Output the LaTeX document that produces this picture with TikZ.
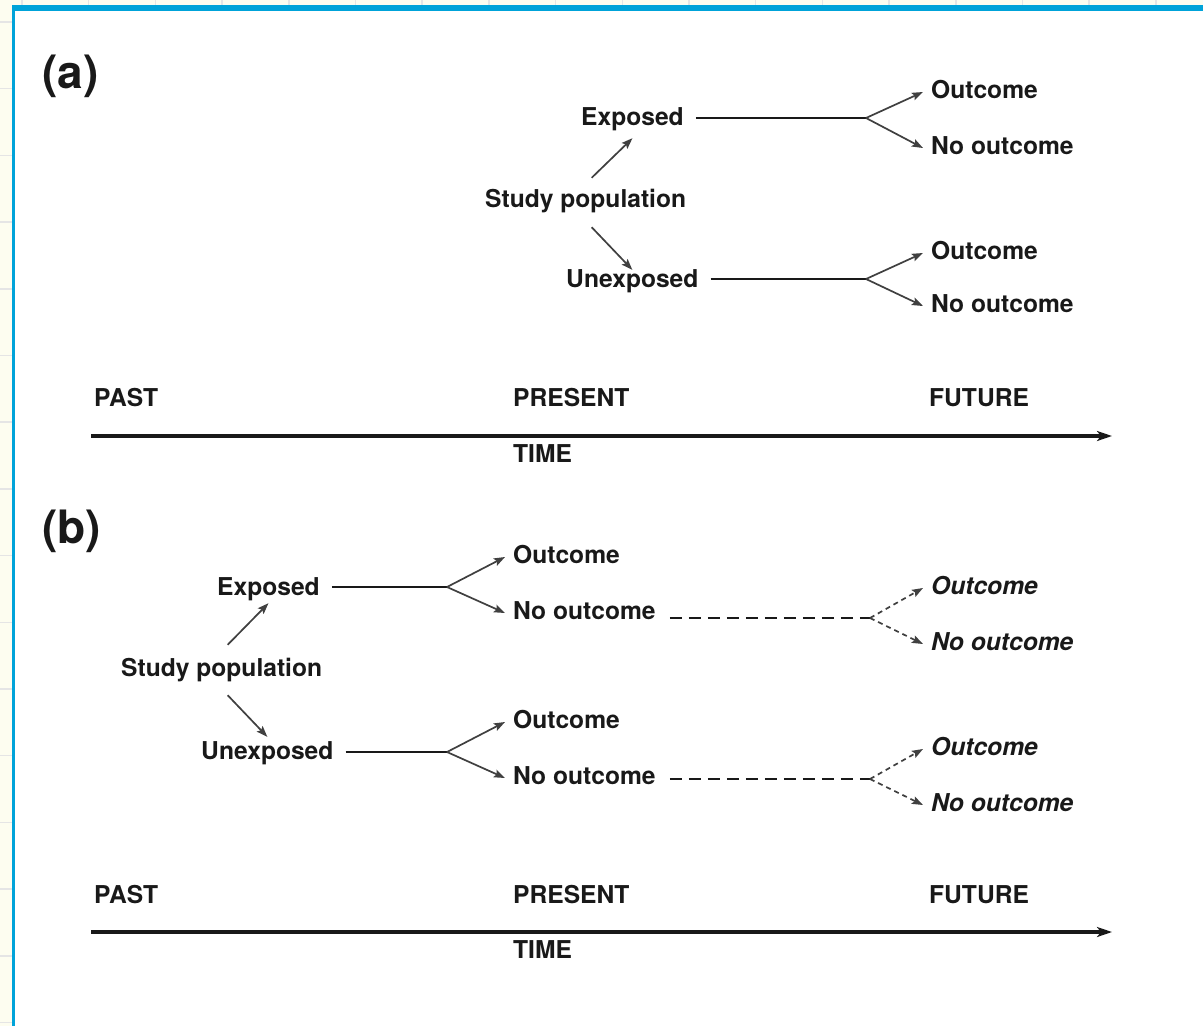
\documentclass[tikz,border=0pt]{standalone}
\usepackage{fontspec}
\setmainfont{TeX Gyre Heros}
\usetikzlibrary{arrows.meta, calc, backgrounds}
\definecolor{frameblue}{RGB}{0,163,217}
\definecolor{papercream}{RGB}{253,253,240}
\tikzset{
  lbl/.style={font=\fontsize{24.6}{28}\selectfont\bfseries, text=black!90, anchor=base west,
    inner xsep=8pt, inner ysep=4pt, text height=17pt, text depth=5pt},
  ilbl/.style={lbl, font=\fontsize{24.6}{28}\selectfont\bfseries\itshape},
  panel/.style={font=\fontsize{46}{50}\selectfont\bfseries, text=black!90, anchor=base west, inner sep=0pt},
  bar/.style={line width=2.8pt, black!90, shorten <=4pt},
  dbar/.style={bar, dash pattern=on 12pt off 7pt, shorten <=6pt},
  arr/.style={line width=1.7pt, black!75, -{Stealth[length=11pt,width=8pt,inset=2pt]}},
  darr/.style={arr, dash pattern=on 5pt off 4pt},
  timeline/.style={line width=3.5pt, black!90, -{Stealth[length=15pt,width=10pt,inset=4pt]}}
}
\begin{document}
\begin{tikzpicture}[x=1pt, y=-1pt]
        \useasboundingbox (0,0) rectangle (1203,1026);
        % page and frame
        \fill[papercream] (0,0) rectangle (1203,1026);
        \foreach \k in {0,...,17} \draw[gray!20, line width=1.5pt] (22+66.7*\k,0) -- ++(0,5);
        \foreach \k in {0,...,15} \draw[gray!20, line width=1.5pt] (0,22+66.7*\k) -- ++(12,0);
        \fill[white] (12,5) rectangle (1203,1026);
        \fill[frameblue] (12,5) rectangle (15,1026);
        \fill[frameblue] (12,5) rectangle (1203,11);

        % (a)
        \node[panel] (pa) at (42,88) {(a)};
        \node[lbl] (spa) at (477,207) {Study population};
        \node[lbl] (ea) at (573,125) {Exposed};
        \node[lbl] (ua) at (558,287) {Unexposed};
        \node[lbl] (oa1) at (923,98) {Outcome};
        \node[lbl] (na1) at (923,154) {No outcome};
        \node[lbl] (oa2) at (923,259) {Outcome};
        \node[lbl] (na2) at (923,312) {No outcome};
        \coordinate (ba1) at (866,118);
        \coordinate (ba2) at (866,279);

        \draw[arr] ([xshift=6pt,yshift=8pt]spa.north) -- ([yshift=-4pt]ea.south);
        \draw[arr] ([xshift=6pt,yshift=-11pt]spa.south) -- ([yshift=-4pt]ua.north);
        \draw[bar] (ea.east |- ba1) -- (ba1);
        \draw[bar] (ua.east |- ba2) -- (ba2);
        \draw[arr] (ba1) -- (oa1.west);
        \draw[arr] (ba1) -- (na1.west);
        \draw[arr] (ba2) -- (oa2.west);
        \draw[arr] (ba2) -- (na2.west);

        \node[lbl] (pasta) at (86,406) {PAST};
        \node[lbl] (presa) at (505,406) {PRESENT};
        \node[lbl] (futa) at (921,406) {FUTURE};
        \node[lbl] (timea) at (505,462) {TIME};
        \coordinate (ta0) at (91,436);
        \coordinate (ta1) at (1112,436);
        \draw[timeline] (ta0) -- (ta1);

        % (b)
        \node[panel] (pb) at (42,543) {(b)};
        \node[lbl] (spb) at (113,676) {Study population};
        \node[lbl] (eb) at (209,595) {Exposed};
        \node[lbl] (ub) at (193,759) {Unexposed};
        \node[lbl] (ob1) at (505,563) {Outcome};
        \node[lbl] (nb1) at (505,619) {No outcome};
        \node[lbl] (ob2) at (505,728) {Outcome};
        \node[lbl] (nb2) at (505,784) {No outcome};
        \node[ilbl] (fo1) at (923,594) {Outcome};
        \node[ilbl] (fn1) at (923,650) {No outcome};
        \node[ilbl] (fo2) at (923,755) {Outcome};
        \node[ilbl] (fn2) at (923,811) {No outcome};
        \coordinate (bb1) at (447,587);
        \coordinate (bb2) at (447,752);
        \coordinate (db1) at (870,618);
        \coordinate (db2) at (870,779);

        \draw[arr] ([xshift=6pt,yshift=10pt]spb.north) -- ([yshift=1pt]eb.south);
        \draw[arr] ([xshift=6pt,yshift=-10pt]spb.south) -- ([yshift=1pt]ub.north);
        \draw[bar] (eb.east |- bb1) -- (bb1);
        \draw[bar] (ub.east |- bb2) -- (bb2);
        \draw[arr] (bb1) -- (ob1.west);
        \draw[arr] (bb1) -- (nb1.west);
        \draw[arr] (bb2) -- (ob2.west);
        \draw[arr] (bb2) -- (nb2.west);
        \draw[dbar] (nb1.east |- db1) -- (db1);
        \draw[dbar] (nb2.east |- db2) -- (db2);
        \draw[darr] (db1) -- (fo1.west);
        \draw[darr] (db1) -- (fn1.west);
        \draw[darr] (db2) -- (fo2.west);
        \draw[darr] (db2) -- (fn2.west);

        \node[lbl] (pastb) at (86,903) {PAST};
        \node[lbl] (presb) at (505,903) {PRESENT};
        \node[lbl] (futb) at (921,903) {FUTURE};
        \node[lbl] (timeb) at (505,958) {TIME};
        \coordinate (tb0) at (91,932);
        \coordinate (tb1) at (1112,932);
        \draw[timeline] (tb0) -- (tb1);
    \end{tikzpicture}
\end{document}
